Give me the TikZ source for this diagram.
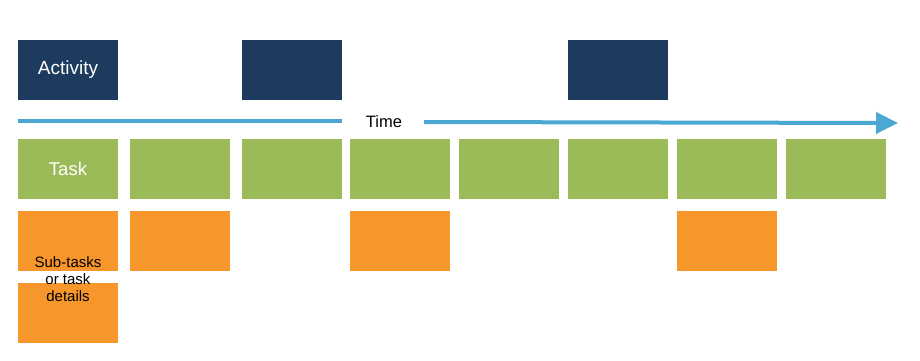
\documentclass[tikz,border=0pt]{standalone}
\usepackage{fontspec}
\setmainfont{Liberation Sans}
\usetikzlibrary{arrows.meta}
\definecolor{navy}{HTML}{1D3A5F}
\definecolor{leaf}{HTML}{9BBB59}
\definecolor{amber}{HTML}{F7962B}
\definecolor{sky}{HTML}{4AA8D3}
\begin{document}
\begin{tikzpicture}[x=1pt,y=-1pt,
  box/.style={minimum width=100pt,minimum height=60pt,inner sep=0pt,outer sep=0pt,anchor=north west},
  actbox/.style={box,fill=navy,text=white,font=\fontsize{19}{21}\selectfont},
  taskbox/.style={box,fill=leaf,text=white,font=\fontsize{18.5}{20}\selectfont},
  subbox/.style={box,fill=amber},
  timeline/.style={draw=sky,line width=4pt}]
\useasboundingbox (0,0) rectangle (920,361);
% activities
\node[actbox] (a1) at (18,40) {Activity};
\node[actbox] (a2) at (242,40) {};
\node[actbox] (a3) at (568,40) {};
% time axis
\coordinate (t0) at (18,121);
\coordinate (t1) at (342,121);
\node[font=\fontsize{16.5}{18}\selectfont] (time) at (384,122) {Time};
\coordinate (t2) at (424,122);
\coordinate (t3) at (898,123);
\draw[timeline] (t0) -- (t1);
\draw[timeline,-{Triangle[length=22pt,width=21pt]}] (t2) -- (t3);
% tasks
\node[taskbox] (k1) at (18,139) {Task};
\node[taskbox] (k2) at (130,139) {};
\node[taskbox] (k3) at (242,139) {};
\node[taskbox] (k4) at (350,139) {};
\node[taskbox] (k5) at (459,139) {};
\node[taskbox] (k6) at (568,139) {};
\node[taskbox] (k7) at (677,139) {};
\node[taskbox] (k8) at (786,139) {};
% sub-tasks
\node[subbox] (s1) at (18,211) {};
\node[subbox] (s2) at (130,211) {};
\node[subbox] (s3) at (350,211) {};
\node[subbox] (s4) at (677,211) {};
\node[subbox] (s5) at (18,283) {};
\node[align=center,font=\fontsize{15}{17}\selectfont,inner sep=0pt] (sublabel) at (68,279) {Sub-tasks\\or task\\details};
\end{tikzpicture}
\end{document}
